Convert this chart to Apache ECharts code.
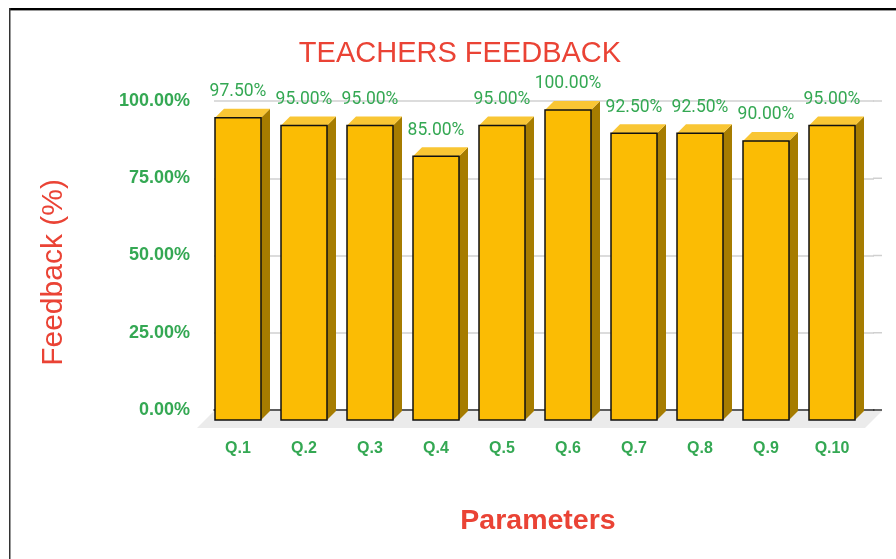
<!DOCTYPE html>
<html>
<head>
<meta charset="utf-8">
<script src="https://cdn.jsdelivr.net/npm/echarts@6/dist/echarts.min.js"></script>
<style>
    html, body { margin: 0; padding: 0; background: #fff; }
    #main { width: 896px; height: 559px; }
</style>
</head>
<body>
<div id="main"></div>
<script>
    var categories = ['Q.1', 'Q.2', 'Q.3', 'Q.4', 'Q.5', 'Q.6', 'Q.7', 'Q.8', 'Q.9', 'Q.10'];
    var feedback = [97.5, 95, 95, 85, 95, 100, 92.5, 92.5, 90, 95];
    var yTicks = [0, 25, 50, 75, 100];

    var green = '#34A853', red = '#EA4335';
    var depth = 9, barW = 46, extra = 8;

    var myChart = echarts.init(document.getElementById('main'));

    function renderBar(params, api) {
        var idx = api.value(0), val = api.value(1);
        var back = api.coord([idx, val]);
        var base = api.coord([idx, 0]);
        var cs = params.coordSys;
        var children = [];

        // floor and the little grid overhang, drawn once
        if (params.dataIndex === 0) {
            var fl = cs.x, fr = cs.x + cs.width + extra, fy = cs.y + cs.height + 1, fd = 17;
            children.push({
                type: 'polygon',
                shape: { points: [[fl, fy], [fr, fy], [fr - fd, fy + fd], [fl - fd, fy + fd]] },
                style: { fill: '#ebebeb' }
            });
            for (var t = 1; t < yTicks.length; t++) {
                var gy = api.coord([0, yTicks[t]])[1];
                children.push({
                    type: 'line',
                    shape: { x1: cs.x + cs.width - 1, y1: gy, x2: fr, y2: gy },
                    style: { stroke: '#d0d0d0', lineWidth: 1.5 }
                });
            }
            children.push({
                type: 'line',
                shape: { x1: cs.x + cs.width - 1, y1: base[1], x2: fr, y2: base[1] },
                style: { stroke: '#333', lineWidth: 1.5 }
            });
        }

        var x0 = back[0] - depth - barW / 2, x1 = x0 + barW;
        var yt = back[1] + depth, yb = base[1] + depth + 1;

        children.push({
            type: 'polygon',
            shape: { points: [[x1, yt], [x1 + depth, yt - depth], [x1 + depth, yb - depth], [x1, yb]] },
            style: { fill: '#A67C00' }
        });
        children.push({
            type: 'polygon',
            shape: { points: [[x0, yt], [x1, yt], [x1 + depth, yt - depth], [x0 + depth, yt - depth]] },
            style: { fill: '#F9C634' }
        });
        children.push({
            type: 'rect',
            shape: { x: x0, y: yt, width: barW, height: yb - yt },
            style: { fill: '#FBBC04', stroke: '#111', lineWidth: 1.5 }
        });
        children.push({
            type: 'text',
            style: {
                x: (x0 + x1) / 2, y: back[1] - 17,
                text: val.toFixed(2) + '%',
                align: 'center', verticalAlign: 'middle',
                fill: green, font: '17.5px Roboto'
            }
        });
        return { type: 'group', children: children };
    }

    var option = {
        backgroundColor: '#fff',
        animation: false,
        graphic: [{
            type: 'text',
            style: { x: 460, y: 54, text: 'TEACHERS FEEDBACK', align: 'center', verticalAlign: 'middle', fill: red, font: '29px "Liberation Sans"' }
        }, {
            type: 'rect', shape: { x: 9, y: 8, width: 887, height: 2 }, style: { fill: '#000' }
        }, {
            type: 'rect', shape: { x: 9, y: 10, width: 887, height: 1 }, style: { fill: '#999' }
        }, {
            type: 'rect', shape: { x: 9, y: 8, width: 1.5, height: 551 }, style: { fill: '#333' }
        }],
        grid: { left: 214, right: 22, top: 101, bottom: 149 },
        xAxis: {
            type: 'category',
            data: categories,
            name: 'Parameters',
            nameLocation: 'middle',
            nameGap: 97,
            nameTextStyle: { color: red, fontSize: 28.5, fontWeight: 'bold', fontFamily: 'Liberation Sans', padding: [0, 12, 0, 0] },
            axisLine: { show: true, lineStyle: { color: '#333', width: 1.5 } },
            axisTick: { show: false },
            axisLabel: { color: green, fontSize: 16, fontWeight: 'bold', fontFamily: 'Liberation Sans', margin: 31, padding: [0, 18, 0, 0] }
        },
        yAxis: {
            type: 'value',
            min: yTicks[0],
            max: yTicks[yTicks.length - 1],
            interval: 25,
            name: 'Feedback (%)',
            nameLocation: 'middle',
            nameGap: 145,
            nameTextStyle: { color: red, fontSize: 30, fontFamily: 'Liberation Sans', padding: [0, 34, 0, 0] },
            axisLine: { show: false },
            axisTick: { show: false },
            splitLine: { lineStyle: { color: '#d0d0d0', width: 1.5 } },
            axisLabel: {
                color: green, fontSize: 18, fontWeight: 'bold', fontFamily: 'Liberation Sans', margin: 24,
                formatter: function (v) { return v.toFixed(2) + '%'; }
            }
        },
        series: [{
            type: 'custom',
            renderItem: renderBar,
            data: feedback.map(function (v, i) { return [i, v]; }),
            z: 3
        }]
    };
    myChart.setOption(option);
</script>
</body>
</html>
